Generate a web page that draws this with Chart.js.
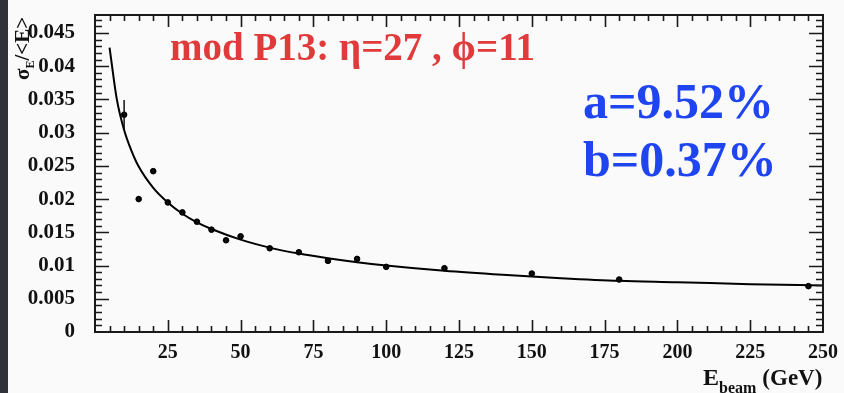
<!DOCTYPE html>
<html>
<head>
<meta charset="utf-8">
<script src="https://cdn.jsdelivr.net/npm/chart.js@4.4.1/dist/chart.umd.min.js"></script>
<style>
  html, body { margin: 0; padding: 0; background: #fafafa; }
  #wrap { width: 844px; height: 393px; position: relative; }
</style>
</head>
<body>
<div id="wrap"><canvas id="c" width="844" height="393"></canvas></div>
<script>
// ---- data ----
const xTickValues = [25, 50, 75, 100, 125, 150, 175, 200, 225, 250];
const xTickLabels = ['25', '50', '75', '100', '125', '150', '175', '200', '225', '250'];
const yTickValues = [0, 0.005, 0.01, 0.015, 0.02, 0.025, 0.03, 0.035, 0.04, 0.045];
const yTickLabels = ['0', '0.005', '0.01', '0.015', '0.02', '0.025', '0.03', '0.035', '0.04', '0.045'];

const energies      = [10, 15, 20, 25, 30, 35, 40, 45, 50, 60, 70, 80, 90, 100, 120, 150, 180, 245];
const resolution    = [0.0327, 0.0200, 0.0242, 0.0195, 0.0180, 0.0166, 0.0154, 0.0138, 0.0144, 0.0126, 0.0120, 0.0107, 0.0110, 0.0098, 0.0096, 0.0088, 0.0079, 0.0069];
const resolutionErr = [0.0022, 0.0004, 0.0004, 0.0003, 0.0003, 0.0003, 0.0003, 0.0003, 0.0003, 0.0002, 0.0002, 0.0002, 0.0002, 0.0002, 0.0002, 0.0002, 0.0002, 0.0003];

const fitEnergies = [5, 7.5, 10, 12.5, 15, 20, 25, 30, 35, 40, 50, 60, 70, 80, 90, 100, 120, 140, 160, 180, 200, 225, 250];
const fitValues   = [0.0428, 0.0350, 0.0304, 0.0273, 0.0249, 0.0217, 0.0195, 0.0178, 0.0165, 0.0155, 0.0139, 0.0127, 0.0118, 0.0111, 0.0105, 0.0100, 0.0092, 0.0086, 0.0081, 0.0077, 0.0075, 0.0072, 0.0070];

const titleText = 'mod P13: \u03B7=27 , \u03D5=11';
const paramA = 'a=9.52%';
const paramB = 'b=0.37%';

const SERIF = '"Liberation Serif", "DejaVu Serif", serif';

const pointData = energies.map((e, i) => ({ x: e, y: resolution[i] }));
const fitData = fitEnergies.map((e, i) => ({ x: e, y: fitValues[i] }));

const bgPlugin = {
  id: 'bg',
  beforeDraw(chart) {
    const ctx = chart.ctx;
    ctx.save();
    ctx.fillStyle = '#fafafa';
    ctx.fillRect(0, 0, chart.width, chart.height);
    ctx.fillStyle = '#2f323a';
    ctx.fillRect(0, 0, 8, chart.height);
    ctx.restore();
  }
};

const errPlugin = {
  id: 'errbars',
  afterDatasetsDraw(chart) {
    const ctx = chart.ctx;
    const xs = chart.scales.x, ys = chart.scales.y;
    ctx.save();
    ctx.strokeStyle = '#111';
    ctx.lineWidth = 1.5;
    energies.forEach((e, i) => {
      const px = xs.getPixelForValue(e);
      const y1 = ys.getPixelForValue(resolution[i] - resolutionErr[i]);
      const y2 = ys.getPixelForValue(resolution[i] + resolutionErr[i]);
      ctx.beginPath();
      ctx.moveTo(px, y1); ctx.lineTo(px, y2);
      ctx.stroke();
    });
    ctx.restore();
  }
};

const framePlugin = {
  id: 'frame',
  afterDraw(chart) {
    const ctx = chart.ctx;
    const a = chart.chartArea;
    const xs = chart.scales.x, ys = chart.scales.y;
    ctx.save();
    ctx.strokeStyle = '#1a1a1a';
    ctx.lineWidth = 1.6;
    for (let v = 5; v < xs.max; v += 5) {
      const px = Math.round(xs.getPixelForValue(v)) + 0.5;
      const major = v % 25 === 0;
      const len = major ? 12 : 6;
      ctx.beginPath();
      ctx.moveTo(px, a.bottom); ctx.lineTo(px, a.bottom - len);
      ctx.moveTo(px, a.top); ctx.lineTo(px, a.top + len);
      ctx.stroke();
    }
    for (let k = 1; k * 0.001 < ys.max; k++) {
      const v = k * 0.001;
      const py = Math.round(ys.getPixelForValue(v)) + 0.5;
      const major = k % 5 === 0;
      const len = major ? 14 : 7;
      ctx.beginPath();
      ctx.moveTo(a.left, py); ctx.lineTo(a.left + len, py);
      ctx.moveTo(a.right, py); ctx.lineTo(a.right - len, py);
      ctx.stroke();
    }
    ctx.lineWidth = 2;
    ctx.strokeRect(a.left, a.top, a.right - a.left, a.bottom - a.top);

    ctx.textBaseline = 'alphabetic';
    ctx.textAlign = 'left';
    ctx.fillStyle = '#e03a3a';
    ctx.font = 'bold 39px ' + SERIF;
    ctx.fillText(titleText, 170, 60);
    ctx.fillStyle = '#1f45f0';
    ctx.font = 'bold 50px ' + SERIF;
    ctx.fillText(paramA, 583, 118);
    ctx.fillText(paramB, 583, 176);

    ctx.fillStyle = '#111';
    ctx.font = 'bold 24px ' + SERIF;
    let x0 = 703;
    ctx.fillText('E', x0, 385);
    x0 += ctx.measureText('E').width;
    ctx.font = 'bold 16px ' + SERIF;
    ctx.fillText('beam', x0, 393);
    x0 += ctx.measureText('beam').width + 6;
    ctx.font = 'bold 23px ' + SERIF;
    ctx.fillText('(GeV)', x0, 385);

    ctx.save();
    ctx.translate(29, 80);
    ctx.rotate(-Math.PI / 2);
    ctx.font = 'bold 21px ' + SERIF;
    let y0 = 0;
    ctx.fillText('\u03C3', y0, 0);
    y0 += ctx.measureText('\u03C3').width;
    ctx.font = 'bold 12px ' + SERIF;
    ctx.fillText('E', y0, 5);
    y0 += ctx.measureText('E').width;
    ctx.font = 'bold 21px ' + SERIF;
    ctx.fillText('/<E>', y0, 0);
    ctx.restore();

    ctx.restore();
  }
};

new Chart(document.getElementById('c'), {
  type: 'scatter',
  data: {
    datasets: [
      {
        type: 'line',
        data: fitData,
        borderColor: '#000',
        borderWidth: 2,
        pointRadius: 0,
        fill: false,
        cubicInterpolationMode: 'monotone',
        order: 2
      },
      {
        data: pointData,
        backgroundColor: '#000',
        borderColor: '#000',
        pointRadius: 2.8,
        pointStyle: 'circle',
        order: 1
      }
    ]
  },
  plugins: [bgPlugin, errPlugin, framePlugin],
  options: {
    responsive: false,
    animation: false,
    devicePixelRatio: 1,
    layout: { padding: { left: 0, right: 21, top: 15, bottom: 0 } },
    plugins: { legend: { display: false }, tooltip: { enabled: false } },
    scales: {
      x: {
        type: 'linear',
        min: 0,
        max: 250,
        grid: { display: true, drawOnChartArea: false, drawTicks: true, tickLength: 9, color: 'rgba(0,0,0,0)' },
        border: { display: false },
        afterBuildTicks(s) { s.ticks = xTickValues.map(v => ({ value: v })); },
        afterFit(s) { s.height = 61; },
        ticks: {
          padding: 0,
          color: '#111',
          font: { family: SERIF, size: 20, weight: 'bold' },
          maxRotation: 0,
          autoSkip: false,
          callback(v) { const i = xTickValues.indexOf(v); return i >= 0 ? xTickLabels[i] : ''; }
        }
      },
      y: {
        type: 'linear',
        min: 0,
        max: 0.0477,
        grid: { display: true, drawOnChartArea: false, drawTicks: true, tickLength: 20, color: 'rgba(0,0,0,0)' },
        border: { display: false },
        afterBuildTicks(s) { s.ticks = yTickValues.map(v => ({ value: v })); },
        afterFit(s) { s.width = 95; },
        ticks: {
          padding: 0,
          color: '#111',
          font: { family: SERIF, size: 21, weight: 'bold' },
          autoSkip: false,
          callback(v) { const i = yTickValues.findIndex(t => Math.abs(t - v) < 1e-9); return i >= 0 ? yTickLabels[i] : ''; }
        }
      }
    }
  }
});
</script>
</body>
</html>
